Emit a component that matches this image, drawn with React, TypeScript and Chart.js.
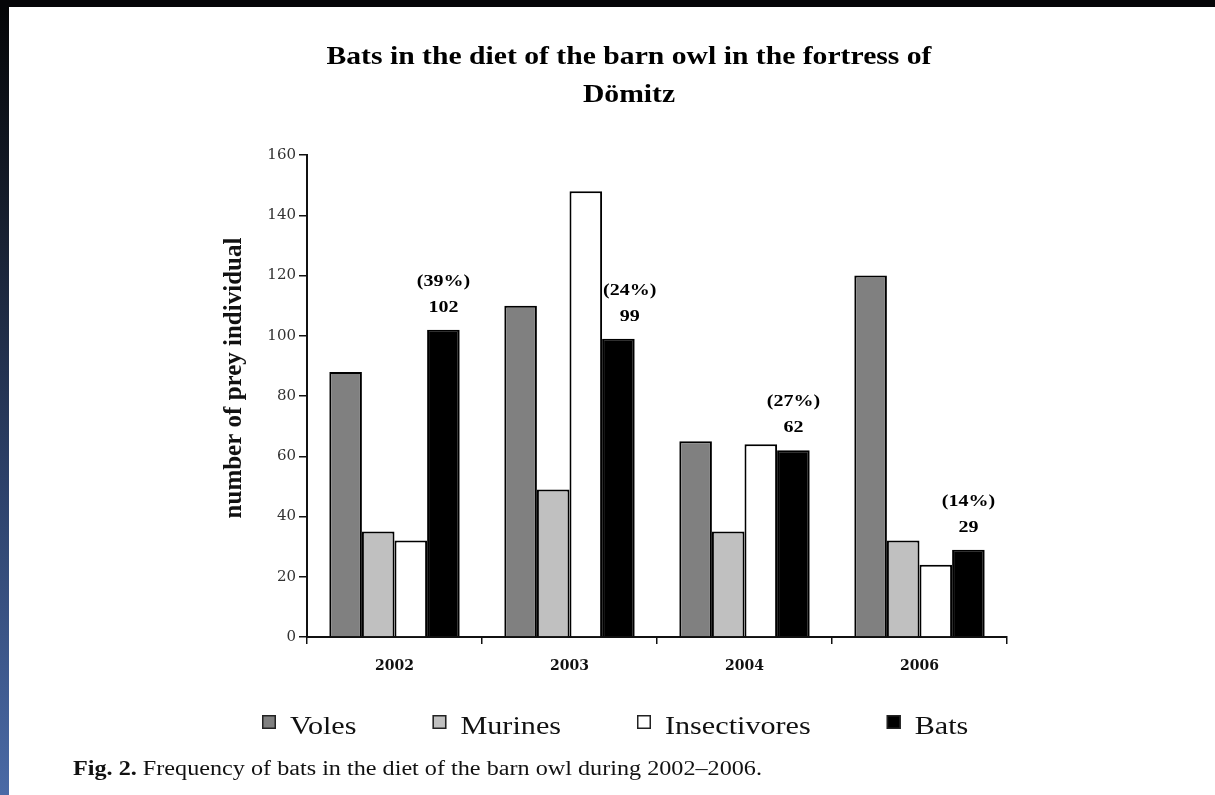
import React, { useEffect, useRef } from 'react';
import { Chart, registerables } from 'chart.js';

Chart.register(...registerables);

// ---- data ----
const years = ['2002', '2003', '2004', '2006'];
const seriesNames = ['Voles', 'Murines', 'Insectivores', 'Bats'];
const voles = [88, 110, 65, 120];
const murines = [35, 49, 35, 32];
const insectivores = [32, 148, 64, 24];
const bats = [102, 99, 62, 29];
const batShare = ['(39%)', '(24%)', '(27%)', '(14%)'];
const yMax = 160;
const yStep = 20;
const titleLines = ['Bats in the diet of the barn owl in the fortress of', 'Dömitz'];
const yTitle = 'number of prey individual';
const captionBold = 'Fig. 2.';
const captionRest = ' Frequency of bats in the diet of the barn owl during 2002\u20132006.';

// ---- styles ----
const fills = ['#808080', '#c0c0c0', '#ffffff', '#000000'];
const SERIF = '"Liberation Serif", "Times New Roman", serif';
const DSERIF = '"DejaVu Serif", serif';

function drawScaled(
  ctx: CanvasRenderingContext2D,
  text: string,
  x: number,
  y: number,
  font: string,
  sx: number,
  align: 'left' | 'center' | 'right',
  color = '#000'
) {
  ctx.save();
  ctx.font = font;
  ctx.fillStyle = color;
  ctx.textBaseline = 'middle';
  ctx.textAlign = 'left';
  const w = ctx.measureText(text).width * sx;
  const left = align === 'center' ? x - w / 2 : align === 'right' ? x - w : x;
  ctx.translate(left, y);
  ctx.scale(sx, 1);
  ctx.fillText(text, 0, 0);
  ctx.restore();
  return w;
}

function measureScaled(ctx: CanvasRenderingContext2D, text: string, font: string, sx: number) {
  ctx.save();
  ctx.font = font;
  const w = ctx.measureText(text).width * sx;
  ctx.restore();
  return w;
}

const framePlugin = {
  id: 'frame',
  beforeDraw(chart: any) {
    const { ctx, width, height } = chart;
    ctx.save();
    ctx.fillStyle = '#050608';
    ctx.fillRect(0, 0, width, height);
    const g = ctx.createLinearGradient(0, 0, 0, height);
    g.addColorStop(0, '#040506');
    g.addColorStop(0.25, '#151c2a');
    g.addColorStop(0.6, '#2c4068');
    g.addColorStop(1, '#4a6aa6');
    ctx.fillStyle = g;
    ctx.fillRect(0, 7, 9, height - 7);
    ctx.fillStyle = '#ffffff';
    ctx.fillRect(9, 7, width - 9, height - 7);
    ctx.restore();
  },
};

const textPlugin = {
  id: 'texts',
  afterDatasetsDraw(chart: any) {
    const ctx = chart.ctx as CanvasRenderingContext2D;
    const meta = chart.getDatasetMeta(3);
    const insMeta = chart.getDatasetMeta(2);
    const lFont = `bold 16px ${SERIF}`;
    meta.data.forEach((bar: any, i: number) => {
      const labelTop = bar.y - 58;
      const wMax = measureScaled(ctx, batShare[i], lFont, 1.25);
      let x = bar.x;
      const ins = insMeta.data[i];
      if (ins && ins.y < labelTop) {
        const insRight = ins.x + ins.width / 2;
        x = Math.max(x, insRight + wMax / 2 + 1);
      }
      drawScaled(ctx, String(bats[i]), x, bar.y - 22, lFont, 1.25, 'center');
      drawScaled(ctx, batShare[i], x, bar.y - 48, lFont, 1.25, 'center');
    });
  },
  afterDraw(chart: any) {
    const ctx = chart.ctx as CanvasRenderingContext2D;
    // title
    const tFont = `bold 26px ${SERIF}`;
    const tsx = 605 / measureScaled(ctx, titleLines[0], tFont, 1);
    drawScaled(ctx, titleLines[0], 629, 57, tFont, tsx, 'center');
    drawScaled(ctx, titleLines[1], 629, 95, tFont, tsx, 'center');

    // y axis title
    ctx.save();
    ctx.translate(235, 378);
    ctx.rotate(-Math.PI / 2);
    ctx.font = `bold 25px ${SERIF}`;
    ctx.fillStyle = '#111';
    ctx.textAlign = 'center';
    ctx.textBaseline = 'middle';
    ctx.fillText(yTitle, 0, 0);
    ctx.restore();

    // legend
    const lFont = `26px ${SERIF}`;
    const lsx = 1.16;
    let x = 262;
    seriesNames.forEach((name, i) => {
      ctx.save();
      ctx.fillStyle = fills[i];
      ctx.strokeStyle = '#222';
      ctx.lineWidth = 1.5;
      ctx.fillRect(x, 715, 14, 14);
      ctx.strokeRect(x + 0.75, 715.75, 12.5, 12.5);
      ctx.restore();
      const w = drawScaled(ctx, name, x + 28, 727, lFont, lsx, 'left', '#111');
      x = x + 28 + w + 76;
    });

    // caption
    const cbFont = `bold 20px ${SERIF}`;
    const crFont = `20px ${SERIF}`;
    const wb = measureScaled(ctx, captionBold, cbFont, 1);
    const wr = measureScaled(ctx, captionRest, crFont, 1);
    const csx = 689 / (wb + wr);
    const w1 = drawScaled(ctx, captionBold, 73, 770, cbFont, csx, 'left', '#111');
    drawScaled(ctx, captionRest, 73 + w1, 770, crFont, csx, 'left', '#111');
  },
};

export default function App() {
  const ref = useRef<HTMLCanvasElement | null>(null);

  useEffect(() => {
    if (!ref.current) return;
    const datasets = [voles, murines, insectivores, bats].map((d, i) => ({
      label: seriesNames[i],
      data: d,
      backgroundColor: fills[i],
      borderColor: '#000',
      borderWidth: 2,
      barPercentage: 1,
      categoryPercentage: 0.745,
    }));
    const chart = new Chart(ref.current, {
      type: 'bar',
      data: { labels: years, datasets },
      options: {
        responsive: false,
        animation: false,
        devicePixelRatio: 1,
        layout: { padding: { left: 9, right: 208, top: 155, bottom: 113 } },
        plugins: {
          legend: { display: false },
          title: { display: false },
          tooltip: { enabled: false },
        },
        scales: {
          x: {
            grid: {
              display: true,
              drawOnChartArea: false,
              drawTicks: true,
              tickLength: 7,
              color: '#111',
              lineWidth: 1.5,
            },
            border: { display: true, color: '#111', width: 2 },
            ticks: {
              color: '#111',
              padding: 14,
              font: { family: DSERIF, size: 14, weight: 'bold' },
            },
            afterFit: (s: any) => {
              s.height = 45;
            },
          },
          y: {
            min: 0,
            max: yMax,
            ticks: {
              stepSize: yStep,
              color: '#333',
              padding: 3,
              font: { family: DSERIF, size: 15 },
            },
            grid: {
              display: true,
              drawOnChartArea: false,
              drawTicks: true,
              tickLength: 8,
              color: '#111',
              lineWidth: 1.5,
            },
            border: { display: true, color: '#111', width: 2 },
            afterFit: (s: any) => {
              s.width = 298;
            },
          },
        },
      },
      plugins: [framePlugin, textPlugin],
    });
    return () => chart.destroy();
  }, []);

  return (
    <div style={{ position: 'fixed', left: 0, top: 0, width: 1215, height: 795 }}>
      <canvas ref={ref} width={1215} height={795} style={{ display: 'block' }} />
    </div>
  );
}
